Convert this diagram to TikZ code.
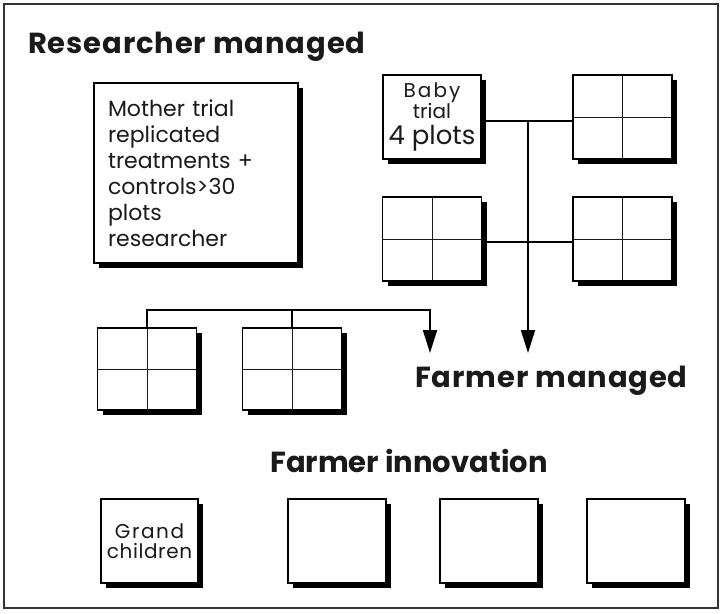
\documentclass[tikz,border=0pt]{standalone}
\usepackage{fontspec}
\setmainfont{Poppins}
\usetikzlibrary{arrows.meta,shadows}
\definecolor{framecol}{HTML}{333333}
\definecolor{inkcol}{HTML}{1A1A1A}
\begin{document}
\begin{tikzpicture}[x=1pt,y=-1pt,
  plotbox/.style={draw=black,line width=1.8pt,fill=white,inner sep=0pt,
    drop shadow={shadow xshift=5pt,shadow yshift=-5pt,fill=black,opacity=1}},
  gridbox/.style={plotbox,minimum width=99pt,minimum height=84pt,
    path picture={\draw[line width=0.9pt,inkcol]
      (path picture bounding box.north) -- (path picture bounding box.south)
      (path picture bounding box.west) -- (path picture bounding box.east);}},
  emptybox/.style={plotbox,minimum width=98pt,minimum height=84pt},
  headtxt/.style={inner sep=0pt,text=inkcol,font=\fontsize{29}{34}\selectfont\bfseries},
  conn/.style={draw=black,line width=1.8pt},
  tip/.style={-{Triangle[length=23pt,width=14pt]}}
]
\useasboundingbox (0,0) rectangle (722,613);
\draw[framecol,line width=2pt] (4,4) rectangle (718,608);

% headings
\node[headtxt,anchor=base west] (t1) at (28,53) {\addfontfeature{LetterSpace=3}Researcher managed};
\node[headtxt,anchor=base west] (t2) at (415,387) {\addfontfeature{LetterSpace=3}Farmer managed};
\node[headtxt,anchor=base west] (t3) at (270,472) {Farmer innovation};

% mother trial
\node[plotbox,minimum width=204pt,minimum height=180pt,align=left,text width=176pt,
  text=inkcol,font=\fontsize{22}{26}\selectfont] (mother) at (196,173)
  {Mother trial\\replicated\\treatments +\\controls>30\\plots\\researcher};

% baby trial
\node[plotbox,minimum width=98pt,minimum height=84pt,align=center,text=inkcol,
  font=\fontsize{20}{20}\selectfont] (baby) at (432,117)
  {{\addfontfeature{LetterSpace=10}Baby}\\
   trial\\[6pt]
   {\fontsize{26}{26}\selectfont 4 plots}};
\node[gridbox] (g1) at (622.5,117) {};
\node[gridbox] (g2) at (432,239) {};
\node[gridbox] (g3) at (622.5,239) {};
\node[gridbox,minimum height=82pt] (g4) at (147,369) {};
\node[gridbox,minimum height=82pt] (g5) at (292,369) {};

% connectors
\coordinate (h1) at (528,121);
\coordinate (h2) at (528,242);
\coordinate (a2) at (528,353);
\coordinate (c1) at (430,310);
\coordinate (a1) at (430,353);
\draw[conn] (baby.east |- h1) -- (g1.west |- h1);
\draw[conn] (g2.east |- h2) -- (g3.west |- h2);
\draw[conn,tip] (h1) -- (a2);
\draw[conn,tip] (g4.north) |- (c1) -- (a1);
\draw[conn] (g5.north) -- (g5.north |- c1);

% farmer innovation
\node[emptybox,minimum width=97pt,align=center,text=inkcol,font=\fontsize{20}{20}\selectfont] (gc) at (149.5,541)
  {{\addfontfeature{LetterSpace=8}Grand}\\{\addfontfeature{LetterSpace=3}children}};
\node[emptybox] (e1) at (337,541) {};
\node[emptybox] (e2) at (489,541) {};
\node[emptybox] (e3) at (636,541) {};
\end{tikzpicture}
\end{document}
